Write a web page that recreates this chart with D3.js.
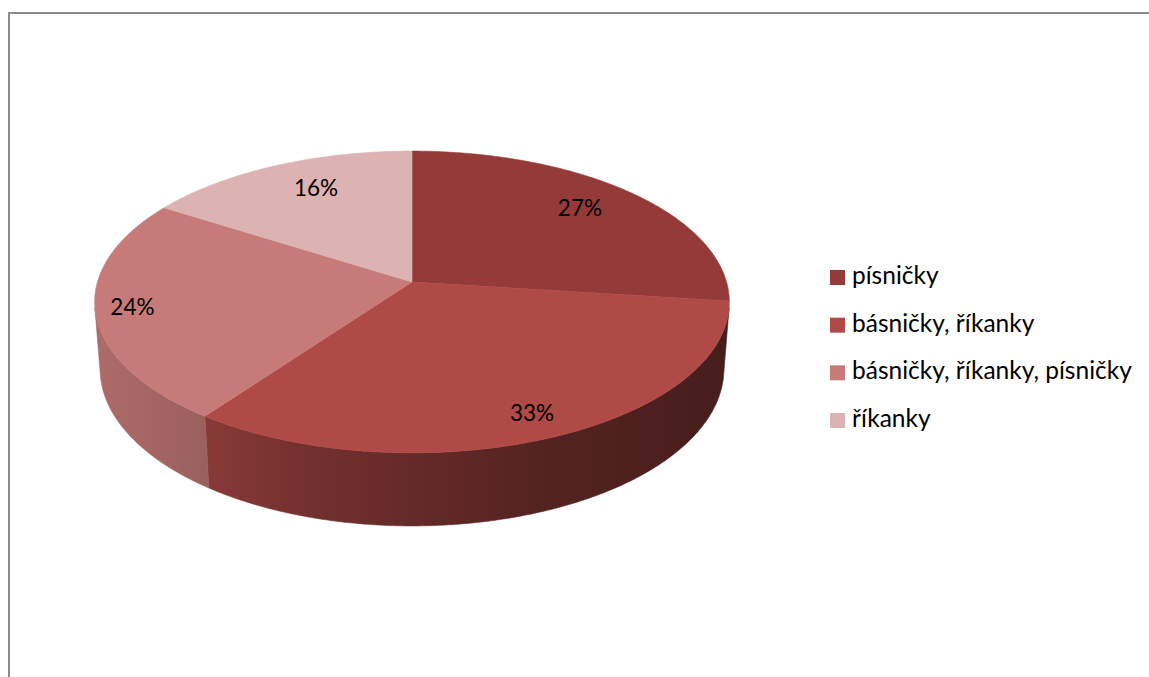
<!DOCTYPE html>
<html>
<head>
<meta charset="utf-8">
<script src="https://cdn.jsdelivr.net/npm/d3@7"></script>
<style>
  html, body { margin: 0; padding: 0; background: #fff; overflow: hidden; }
  svg { display: block; }
</style>
</head>
<body>
<svg id="chart" width="1149" height="677"></svg>
<script>
// Chart data
const categories = ["písničky", "básničky, říkanky", "básničky, říkanky, písničky", "říkanky"];
const percentages = [27, 33, 24, 16];
const sliceColors = ["#943B3A", "#B04A47", "#C77B79", "#DCB2B2"];

const svg = d3.select("#chart");
const fontFamily = "Lato, 'Noto Sans', sans-serif";

// Chart frame (only left and top edges fall inside the view)
svg.append("path")
  .attr("d", "M9,690 V13 H1170")
  .attr("fill", "none")
  .attr("stroke", "#8c8c8c")
  .attr("stroke-width", 2);

// 3D pie geometry: a disc seen from above with perspective
const cx = 412, cy = 282;          // projected disc centre on screen
const R = 0.150;                   // disc radius relative to camera distance
const focal = 2097;                // focal length in pixels
const tilt = Math.asin(0.4713);    // elevation of the view
const thick = 0.03655;             // disc thickness relative to camera distance
const sA = Math.sin(tilt), cA = Math.cos(tilt);

function project(theta, rho, z) {
  const x = R * rho * Math.sin(theta);
  const y = R * rho * Math.cos(theta);
  const u = y * sA + z * cA;
  const d = 1 + y * cA - z * sA;
  return [cx + focal * x / d, cy - focal * u / d];
}

const pie = d3.pie().sort(null).value(d => d)(percentages);
const line = d3.line();

function rim(a0, a1, z) {
  const n = Math.max(2, Math.ceil((a1 - a0) / (Math.PI / 360)));
  return d3.range(n + 1).map(i => project(a0 + (a1 - a0) * i / n, 1, z));
}

// Visible part of the outer wall: between the silhouette generators
const camDist = cA;                 // horizontal distance of camera from disc centre
const halfVis = Math.acos(R / camDist);
const visStart = Math.PI - halfVis, visEnd = Math.PI + halfVis;

// Wall shading darkens from left to right
const shadeStops = [[95, 0.87], [205, 0.78], [300, 0.66], [425, 0.56], [545, 0.47], [730, 0.40]];
const defs = svg.append("defs");
pie.forEach((p, i) => {
  const base = d3.rgb(sliceColors[i]);
  const g = defs.append("linearGradient")
    .attr("id", "wall" + i)
    .attr("gradientUnits", "userSpaceOnUse")
    .attr("x1", 95).attr("x2", 730).attr("y1", 0).attr("y2", 0);
  shadeStops.forEach(([x, k]) => {
    g.append("stop")
      .attr("offset", (x - 95) / (730 - 95))
      .attr("stop-color", d3.rgb(base.r * k, base.g * k, base.b * k).formatHex());
  });
});

const wallG = svg.append("g");
pie.forEach((p, i) => {
  const a0 = Math.max(p.startAngle, visStart);
  const a1 = Math.min(p.endAngle, visEnd);
  if (a1 <= a0) return;
  const pts = rim(a0, a1, 0).concat(rim(a0, a1, -thick).reverse());
  wallG.append("path")
    .attr("d", line(pts) + "Z")
    .attr("fill", `url(#wall${i})`)
    .attr("stroke", `url(#wall${i})`)
    .attr("stroke-width", 0.6);
});

const topG = svg.append("g");
pie.forEach((p, i) => {
  const pts = [project(0, 0, 0)].concat(rim(p.startAngle, p.endAngle, 0));
  topG.append("path")
    .attr("d", line(pts) + "Z")
    .attr("fill", sliceColors[i])
    .attr("stroke", sliceColors[i])
    .attr("stroke-width", 0.6)
    .attr("stroke-linejoin", "round");
});

// Percentage labels inside the slices (radial position and small angular nudge per slice)
const labelRadius = [0.78, 0.86, 0.885, 0.765];
const labelNudge = [-1.5, 0, 0, 3].map(d => d * Math.PI / 180);
const labelG = svg.append("g")
  .attr("font-family", fontFamily)
  .attr("font-size", 22.5)
  .attr("fill", "#000")
  .attr("text-anchor", "middle");
pie.forEach((p, i) => {
  const mid = (p.startAngle + p.endAngle) / 2 + labelNudge[i];
  const [x, y] = project(mid, labelRadius[i], 0);
  labelG.append("text")
    .attr("x", x)
    .attr("y", y)
    .attr("dy", "0.35em")
    .text(p.data + "%");
});

// Legend
const legendY = d3.scalePoint().domain(categories).range([277.5, 420.5]);
const legend = svg.append("g")
  .attr("font-family", fontFamily)
  .attr("font-size", 24.5);
categories.forEach((c, i) => {
  const yc = legendY(c);
  legend.append("rect")
    .attr("x", 830).attr("y", yc - 7.5)
    .attr("width", 15).attr("height", 15)
    .attr("fill", sliceColors[i]);
  legend.append("text")
    .attr("x", 852).attr("y", yc + 6.5)
    .attr("fill", "#000")
    .text(c);
});
</script>
</body>
</html>
